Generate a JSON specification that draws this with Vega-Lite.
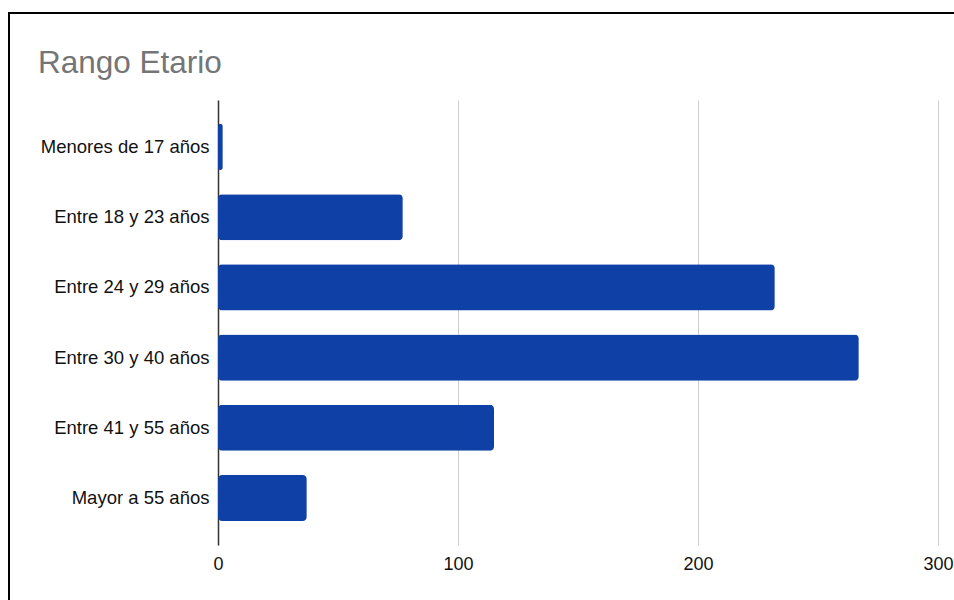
{
  "$schema": "https://vega.github.io/schema/vega-lite/v6.json",
  "autosize": {"type": "none"},
  "padding": {"left": 9, "top": 13, "right": 0, "bottom": 0},
  "width": 950,
  "height": 619,
  "background": "white",
  "title": {
    "text": "Rango Etario",
    "anchor": "start",
    "frame": "group",
    "font": "Liberation Sans",
    "fontSize": 31.5,
    "fontWeight": "normal",
    "color": "#757575",
    "baseline": "alphabetic",
    "offset": 0,
    "dx": 29,
    "dy": 91
  },
  "data": {
    "values": [
      {"rango": "Menores de 17 años", "cantidad": 2},
      {"rango": "Entre 18 y 23 años", "cantidad": 77},
      {"rango": "Entre 24 y 29 años", "cantidad": 232},
      {"rango": "Entre 30 y 40 años", "cantidad": 267},
      {"rango": "Entre 41 y 55 años", "cantidad": 115},
      {"rango": "Mayor a 55 años", "cantidad": 37}
    ]
  },
  "mark": {"type": "bar", "color": "#0f40a5", "cornerRadius": 4},
  "encoding": {
    "y": {
      "field": "rango",
      "type": "nominal",
      "sort": null,
      "scale": {"range": [87, 532], "paddingInner": 0.345, "paddingOuter": 0.34},
      "axis": {
        "title": null,
        "orient": "left",
        "offset": -209,
        "ticks": false,
        "tickSize": 0,
        "labelPadding": 9,
        "domainColor": "#333333",
        "domainWidth": 1.5,
        "labelFont": "Liberation Sans",
        "labelFontSize": 18.5,
        "labelColor": "#111111",
        "grid": false
      }
    },
    "x": {
      "field": "cantidad",
      "type": "quantitative",
      "scale": {"domain": [0, 300], "range": [209, 929], "nice": false},
      "axis": {
        "title": null,
        "values": [0, 100, 200, 300],
        "domain": false,
        "ticks": false,
        "tickSize": 0,
        "offset": -87,
        "labelPadding": 10,
        "grid": true,
        "gridColor": "#cccccc",
        "labelFont": "Liberation Sans",
        "labelFontSize": 18,
        "labelColor": "#111111",
        "labelFlush": false,
        "labelOverlap": false
      }
    }
  },
  "config": {"view": {"stroke": "#000000", "strokeWidth": 2}}
}
